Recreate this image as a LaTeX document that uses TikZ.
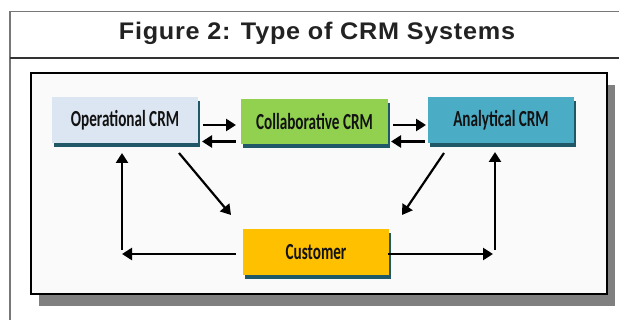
\documentclass[tikz,border=0pt]{standalone}
\usepackage{fontspec}
\setmainfont{Liberation Sans}
\newfontfamily\titlefont[LetterSpace=3]{Liberation Sans Bold}
\newfontfamily\boxfont{Carlito Bold}
\usetikzlibrary{arrows.meta,shadows}
\definecolor{opfill}{HTML}{DCE6F2}
\definecolor{cofill}{HTML}{92D050}
\definecolor{anfill}{HTML}{4BACC6}
\definecolor{cufill}{HTML}{FFC000}
\definecolor{shadowc}{HTML}{215868}
\definecolor{panelfill}{HTML}{FAFAFA}
\definecolor{framegray}{HTML}{777777}
\definecolor{titletext}{HTML}{222222}
\tikzset{
  crmbox/.style={draw=none, rectangle, inner sep=0pt,
    minimum width=146pt, minimum height=46pt,
    drop shadow={shadow xshift=2pt, shadow yshift=-4pt, fill=shadowc, opacity=1},
    font=\boxfont\fontsize{23}{25}\selectfont, text=black!93},
  conn/.style={line width=2.8pt, -{Triangle[length=10pt,width=12pt]}, black},
}
\newcommand{\sq}[1]{\scalebox{0.66}[1]{#1}}
\begin{document}
\begin{tikzpicture}[x=1pt,y=-1pt]
\useasboundingbox (0,0) rectangle (619,320);
\fill[white] (0,0) rectangle (619,320);
% outer frame
\draw[framegray, line width=1.5pt] (10,320) -- (10,11.5) -- (619,11.5);
\draw[black!80, line width=1.2pt] (10,58) -- (619,58);
\node[font=\titlefont\fontsize{24}{26}\selectfont, text=titletext] (title) at (317,33) {\scalebox{1.05}[1]{Figure 2: Type of CRM Systems}};
% panel
\fill[gray] (39,85) rectangle (615,306);
\draw[black, line width=1.3pt, fill=panelfill] (31,73) rectangle (607,294);
% boxes
\node[crmbox, fill=opfill] (op) at (125,120) {\sq{Operational CRM}};
\node[crmbox, fill=cofill, minimum width=147pt, minimum height=45pt] (co) at (314.5,121.5) {\sq{Collaborative CRM}};
\node[crmbox, fill=anfill] (an) at (501,120) {\sq{Analytical CRM}};
\node[crmbox, fill=cufill] (cu) at (316,252) {\sq{Customer}};
% connector end points
\coordinate (oc1) at (203,125); \coordinate (oc2) at (236,125);
\coordinate (co1) at (236,141.5); \coordinate (co2) at (202,141.5);
\coordinate (ca1) at (393,125); \coordinate (ca2) at (426,125);
\coordinate (ac1) at (425,141.5); \coordinate (ac2) at (391,141.5);
\coordinate (od1) at (179,153); \coordinate (od2) at (231,215);
\coordinate (ad1) at (444,153); \coordinate (ad2) at (402,215);
\coordinate (cl1) at (236,254); \coordinate (cl2) at (122,254);
\coordinate (lv1) at (122,250); \coordinate (lv2) at (122,153);
\coordinate (cr1) at (388,254); \coordinate (cr2) at (493,254);
\coordinate (rv1) at (495,250); \coordinate (rv2) at (495,152);
\draw[conn] (oc1) -- (oc2);
\draw[conn] (co1) -- (co2);
\draw[conn] (ca1) -- (ca2);
\draw[conn] (ac1) -- (ac2);
\draw[conn, line width=2.2pt] (od1) -- (od2);
\draw[conn, line width=2.2pt] (ad1) -- (ad2);
\draw[conn] (cl1) -- (cl2);
\draw[conn] (lv1) -- (lv2);
\draw[conn] (cr1) -- (cr2);
\draw[conn] (rv1) -- (rv2);
\end{tikzpicture}
\end{document}
